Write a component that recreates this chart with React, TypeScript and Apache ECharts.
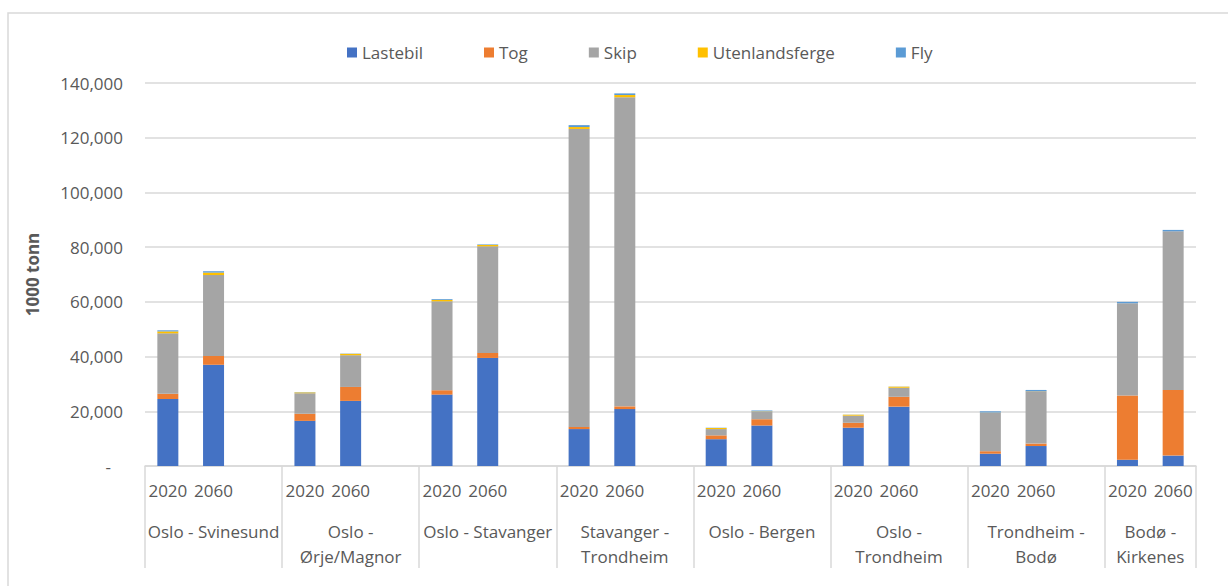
import React, { useEffect, useRef } from "react";
import * as echarts from "echarts";

const routes = [
  "Oslo - Svinesund",
  "Oslo -\nØrje/Magnor",
  "Oslo - Stavanger",
  "Stavanger -\nTrondheim",
  "Oslo - Bergen",
  "Oslo -\nTrondheim",
  "Trondheim -\nBodø",
  "Bodø -\nKirkenes",
];
const years = ["2020", "2060"];

const seriesNames = ["Lastebil", "Tog", "Skip", "Utenlandsferge", "Fly"];
const seriesColors = ["#4472C4", "#ED7D31", "#A5A5A5", "#FFC000", "#5B9BD5"];

// values per route, 2020 then 2060 (1000 tonn)
const lastebil = [24500, 37000, 16500, 23800, 26100, 39500, 13500, 20800, 9800, 14800, 14000, 21700, 4500, 7300, 2300, 3800];
const tog = [1900, 3200, 2600, 5100, 1600, 1800, 800, 1000, 1400, 2300, 1800, 3600, 900, 900, 23500, 24000];
const skip = [22100, 29600, 7500, 11600, 32500, 39000, 108900, 113000, 2300, 2800, 2600, 3300, 14100, 19100, 33700, 58000];
const utenlandsferge = [700, 900, 300, 500, 500, 500, 700, 800, 400, 100, 350, 400, 50, 50, 0, 0];
const fly = [400, 500, 100, 100, 300, 200, 700, 600, 100, 300, 50, 50, 450, 450, 500, 500];

const yTicks = { min: 0, max: 140000, interval: 20000 };

export default function App() {
  const ref = useRef<HTMLDivElement>(null);

  useEffect(() => {
    if (!ref.current) return;
    const chart = echarts.init(ref.current, undefined, { renderer: "svg" });

    // build slot categories: each route has 2020, 2060 and a blank slot (except the last)
    const cats: string[] = [];
    const slotIndex: number[] = [];
    routes.forEach((_, r) => {
      years.forEach((y) => {
        slotIndex.push(cats.length);
        cats.push(y);
      });
      if (r < routes.length - 1) cats.push("");
    });
    const nSlots = cats.length;

    const expand = (vals: number[]) => {
      const out: (number | null)[] = new Array(nSlots).fill(null);
      vals.forEach((v, i) => (out[slotIndex[i]] = v));
      return out;
    };
    const allVals = [lastebil, tog, skip, utenlandsferge, fly];

    // second axis: half-slot positions (boundaryGap false) for group labels and separators
    const halfCount = nSlots * 2 + 1;
    const halfCats: string[] = new Array(halfCount).fill("");
    const boundaries = new Set<number>();
    const labelAt = new Map<number, string>();
    let pos = 0;
    routes.forEach((name, r) => {
      const width = r < routes.length - 1 ? 3 : 2;
      boundaries.add(pos * 2);
      labelAt.set(pos * 2 + width, name);
      pos += width;
    });
    boundaries.add(pos * 2);
    labelAt.forEach((name, idx) => (halfCats[idx] = name));

    const font = "'Open Sans', 'Noto Sans', sans-serif";
    const textColor = "#595959";
    const gridColor = "#d9d9d9";
    const fs = 17;

    chart.setOption({
      animation: false,
      textStyle: { fontFamily: font },
      graphic: [
        {
          type: "rect",
          shape: { x: 8, y: 13, width: 1400, height: 800 },
          style: { fill: "none", stroke: gridColor, lineWidth: 1.5 },
          silent: true,
        },
      ],
      legend: {
        top: 39,
        left: 342,
        itemWidth: 10,
        itemHeight: 10,
        itemGap: 61,
        icon: "rect",
        textStyle: { color: textColor, fontSize: fs, fontFamily: font },
        data: seriesNames,
      },
      grid: { left: 145, right: 32, top: 83, bottom: 120 },
      xAxis: [
        {
          type: "category",
          data: cats,
          position: "bottom",
          axisLine: { show: true, lineStyle: { color: gridColor, width: 1.5 } },
          axisTick: { show: false },
          axisLabel: { interval: 0, color: textColor, fontSize: fs, margin: 16, fontFamily: font },
        },
        {
          type: "category",
          data: halfCats,
          boundaryGap: false,
          position: "bottom",
          axisLine: { show: false },
          axisTick: {
            show: true,
            length: 102,
            interval: (index: number) => boundaries.has(index),
            lineStyle: { color: gridColor, width: 1.5 },
          },
          axisLabel: {
            interval: (index: number) => labelAt.has(index),
            color: textColor,
            fontSize: fs,
            lineHeight: 25,
            margin: 53,
            align: "center",
            fontFamily: font,
          },
          splitLine: { show: false },
        },
      ],
      yAxis: {
        type: "value",
        min: yTicks.min,
        max: yTicks.max,
        interval: yTicks.interval,
        name: "1000 tonn",
        nameLocation: "middle",
        nameGap: 104,
        nameTextStyle: { color: textColor, fontSize: fs, fontWeight: "bold", fontFamily: font },
        axisLine: { show: false },
        axisTick: { show: false },
        splitLine: { lineStyle: { color: gridColor, width: 1.5 } },
        axisLabel: {
          color: textColor,
          fontSize: fs,
          margin: 22,
          fontFamily: font,
          formatter: (v: number) => (v === 0 ? "{z|-}" : v.toLocaleString("en-US")),
          rich: { z: { color: textColor, fontSize: fs, padding: [0, 12, 0, 0], fontFamily: font } },
        },
      },
      series: seriesNames.map((name, i) => ({
        name,
        type: "bar",
        stack: "total",
        xAxisIndex: 0,
        data: expand(allVals[i]),
        barWidth: 21,
        itemStyle: { color: seriesColors[i] },
      })),
    });

    return () => chart.dispose();
  }, []);

  return (
    <div
      ref={ref}
      style={{ position: "fixed", left: 0, top: 0, width: 1228, height: 586, background: "#fff" }}
    />
  );
}
